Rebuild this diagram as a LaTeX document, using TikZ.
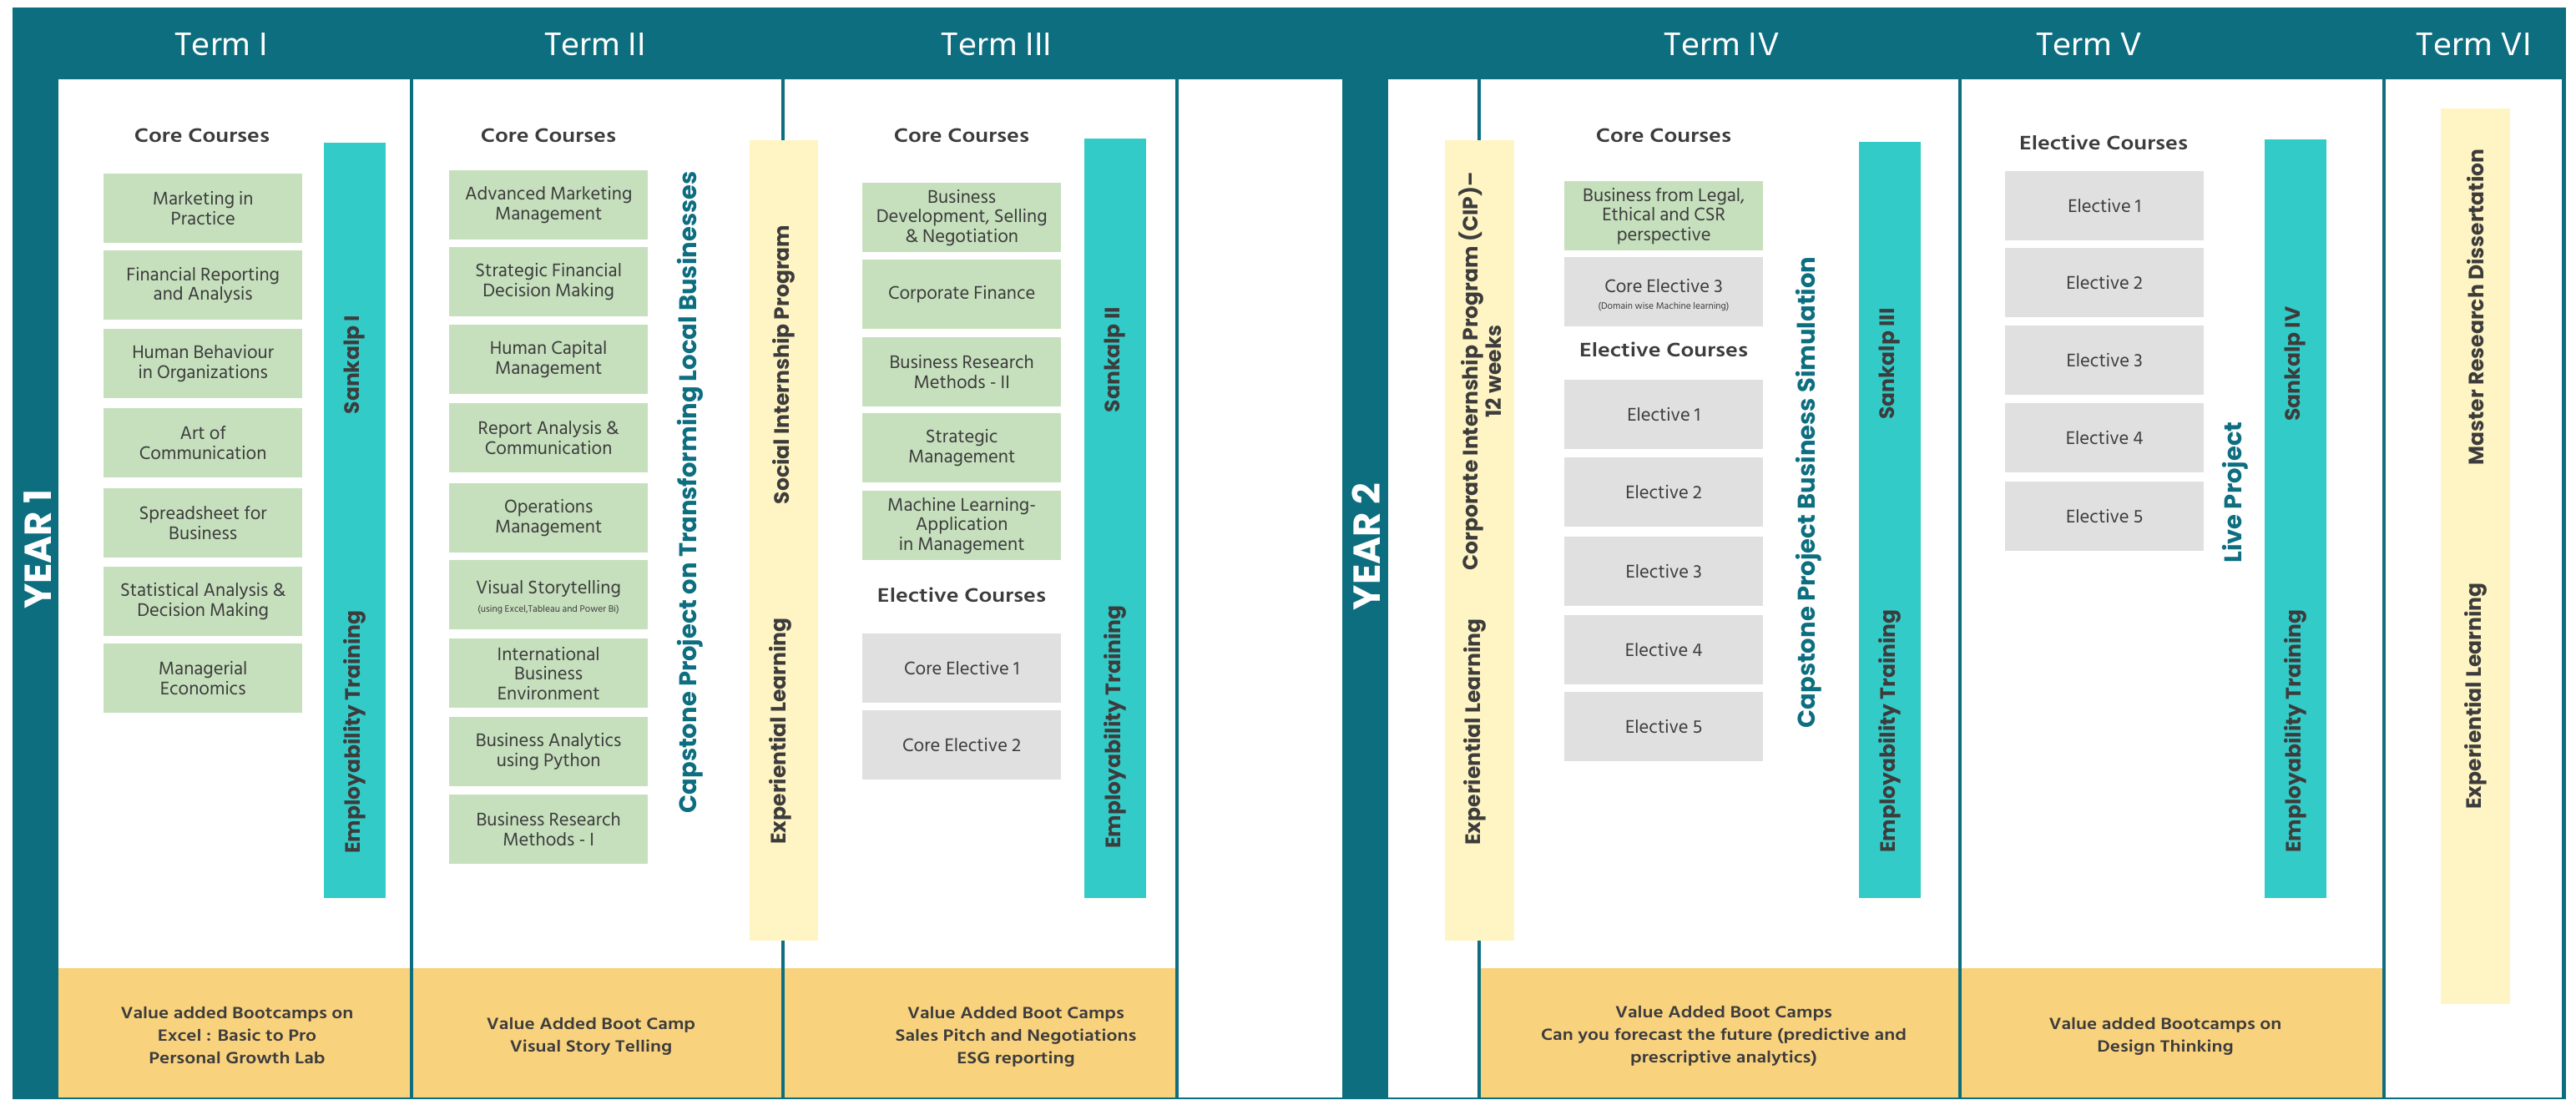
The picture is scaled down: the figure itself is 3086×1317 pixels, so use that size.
\documentclass[tikz,border=0pt]{standalone}
\usepackage{fontspec}
\usepackage{graphicx}
\setmainfont{Hind Siliguri}
\newfontfamily\poppfont{Poppins}
\definecolor{cteal}{HTML}{0D6E80}
\definecolor{cbar}{HTML}{33CBC8}
\definecolor{cgreen}{HTML}{C6E0BD}
\definecolor{cgray}{HTML}{E0E0E0}
\definecolor{cyell}{HTML}{FFF4C3}
\definecolor{corange}{HTML}{F9D27E}
\definecolor{ctext}{HTML}{3C3C3C}
\newcommand\boxfnt{\fontsize{22.5}{23.5}\selectfont}
\newcommand\wideh[1]{\scalebox{1.06}[1]{#1}}
\newcommand\wides[1]{\scalebox{1.17}[1]{#1}}
\newcommand\wideo[1]{\scalebox{1.15}[1]{\begin{tabular}{@{}c@{}}#1\end{tabular}}}
\tikzset{
  hdr/.style={text=white,font=\fontsize{40}{42}\selectfont},
  sect/.style={text=ctext,font=\bfseries\fontsize{24}{26}\selectfont},
  greenbox/.style={fill=cgreen,minimum width=238pt,minimum height=83pt,inner sep=2pt,align=center,text=ctext,font=\boxfnt,anchor=north west},
  graybox/.style={greenbox,fill=cgray},
  smalltxt/.style={text=ctext,font=\fontsize{11.5}{13}\selectfont},
  vlab/.style={rotate=90,text=ctext,font=\poppfont\bfseries\fontsize{25}{28}\selectfont},
  tlab/.style={rotate=90,text=cteal,font=\poppfont\bfseries\fontsize{29}{31}\selectfont},
  yearlab/.style={rotate=90,text=white,font=\poppfont\bfseries\fontsize{45}{47}\selectfont},
  otxt/.style={text=ctext,inner sep=0pt,font=\bfseries\fontsize{20}{27}\selectfont},
  divider/.style={draw=cteal,line width=3.5pt}
}
\begin{document}
\begin{tikzpicture}[x=1pt,y=-1pt]
\useasboundingbox (0,0) rectangle (3086,1317);
% frame
\fill[cteal] (15,9) rectangle (3074,1317);
\fill[white] (70,95) rectangle (1608,1315);
\fill[white] (1663,95) rectangle (3069,1315);
% bottom bands
\fill[corange] (70,1160) rectangle (1410,1315);
\fill[corange] (1772,1160) rectangle (2856,1315);
% dividers
\foreach \xx in {493,938,1410,1772,2348,2856}
  \draw[divider] (\xx,95) -- (\xx,1315);
% bars
\fill[cbar] (388,171) rectangle (462,1076);
\fill[cyell] (898,168) rectangle (980,1127);
\fill[cbar] (1299,166) rectangle (1373,1076);
\fill[cyell] (1731,168) rectangle (1814,1127);
\fill[cbar] (2227,170) rectangle (2301,1076);
\fill[cbar] (2713,167) rectangle (2787,1076);
\fill[cyell] (2924,130) rectangle (3007,1203);
% headers
\node[hdr] (h1) at (265,53) {\wideh{Term I}};
\node[hdr] (h2) at (713,53) {\wideh{Term II}};
\node[hdr] (h3) at (1194,53) {\wideh{Term III}};
\node[hdr] (h4) at (2063,53) {\wideh{Term IV}};
\node[hdr] (h5) at (2503,53) {\wideh{Term V}};
\node[hdr] (h6) at (2964,53) {\wideh{Term VI}};
\node[yearlab] (y1) at (45,658) {YEAR 1};
\node[yearlab] (y2) at (1637,655) {YEAR 2};
% section titles
\node[sect] (cc1) at (242,162) {\wides{Core Courses}};
\node[sect] (cc2) at (657,162) {\wides{Core Courses}};
\node[sect] (cc3) at (1152,162) {\wides{Core Courses}};
\node[sect] (cc4) at (1993,162) {\wides{Core Courses}};
\node[sect] (ec3) at (1152,713) {\wides{Elective Courses}};
\node[sect] (ec4) at (1993,419) {\wides{Elective Courses}};
\node[sect] (ec5) at (2520,171) {\wides{Elective Courses}};
% term I
\node[greenbox] (a1) at (124,208) {Marketing in\\Practice};
\node[greenbox] (a2) at (124,300) {Financial Reporting\\and Analysis};
\node[greenbox] (a3) at (124,394) {Human Behaviour\\in Organizations};
\node[greenbox] (a4) at (124,489) {Art of\\Communication};
\node[greenbox] (a5) at (124,585) {Spreadsheet for\\Business};
\node[greenbox] (a6) at (124,679) {Statistical Analysis \&\\Decision Making};
\node[greenbox] (a7) at (124,771) {Managerial\\Economics};
% term II
\node[greenbox] (b1) at (538,204) {Advanced Marketing\\Management};
\node[greenbox] (b2) at (538,296) {Strategic Financial\\Decision Making};
\node[greenbox] (b3) at (538,389) {Human Capital\\Management};
\node[greenbox] (b4) at (538,483) {Report Analysis \&\\Communication};
\node[greenbox] (b5) at (538,579) {Operations\\Management};
\node[greenbox] (b6) at (538,671) {};
\node[text=ctext,font=\boxfnt] (b6t) at (657,706) {Visual Storytelling};
\node[smalltxt] (b6s) at (657,730) {(using Excel,Tableau and Power Bi)};
\node[greenbox] (b7) at (538,765) {International\\Business\\Environment};
\node[greenbox] (b8) at (538,859) {Business Analytics\\using Python};
\node[greenbox] (b9) at (538,952) {Business Research\\Methods - I};
% term III
\node[greenbox] (c1) at (1033,219) {Business\\Development, Selling\\\& Negotiation};
\node[greenbox] (c2) at (1033,311) {Corporate Finance};
\node[greenbox] (c3) at (1033,404) {Business Research\\Methods - II};
\node[greenbox] (c4) at (1033,495) {Strategic\\Management};
\node[greenbox] (c5) at (1033,588) {Machine Learning-\\Application\\in Management};
\node[graybox] (c6) at (1033,759) {Core Elective 1};
\node[graybox] (c7) at (1033,851) {Core Elective 2};
% term IV
\node[greenbox] (d1) at (1874,217) {Business from Legal,\\Ethical and CSR\\perspective};
\node[graybox] (d2) at (1874,308) {};
\node[text=ctext,font=\boxfnt] (d2t) at (1993,343) {Core Elective 3};
\node[smalltxt] (d2s) at (1993,367) {(Domain wise Machine learning)};
\node[graybox] (d3) at (1874,455) {Elective 1};
\node[graybox] (d4) at (1874,548) {Elective 2};
\node[graybox] (d5) at (1874,643) {Elective 3};
\node[graybox] (d6) at (1874,737) {Elective 4};
\node[graybox] (d7) at (1874,829) {Elective 5};
% term V
\node[graybox] (e1) at (2402,205) {Elective 1};
\node[graybox] (e2) at (2402,297) {Elective 2};
\node[graybox] (e3) at (2402,390) {Elective 3};
\node[graybox] (e4) at (2402,483) {Elective 4};
\node[graybox] (e5) at (2402,577) {Elective 5};
% vertical labels
\node[vlab] (s1) at (425,437) {Sankalp I};
\node[vlab] (et1) at (425,877) {Employability Training};
\node[tlab] (cap1) at (827,590) {Capstone Project on Transforming Local Businesses};
\node[vlab] (sip) at (939,437) {Social Internship Program};
\node[vlab] (el2) at (935,876) {Experiential Learning};
\node[vlab] (s2) at (1336,431) {Sankalp II};
\node[vlab] (et2) at (1336,871) {Employability Training};
\node[vlab,align=center] (cip) at (1773,445) {Corporate Internship Program (CIP)–\\12 weeks};
\node[vlab] (el4) at (1767,877) {Experiential Learning};
\node[tlab] (cap2) at (2167,590) {Capstone Project Business Simulation};
\node[vlab] (s3) at (2264,436) {Sankalp III};
\node[vlab] (et3) at (2264,876) {Employability Training};
\node[tlab] (lp) at (2678,590) {Live Project};
\node[vlab] (s4) at (2750,436) {Sankalp IV};
\node[vlab] (et4) at (2750,876) {Employability Training};
\node[vlab] (mrd) at (2966,368) {Master Research Dissertation};
\node[vlab] (el6) at (2966,834) {Experiential Learning};
% bottom texts
\node[otxt] (o1) at (284,1242) {\wideo{Value added Bootcamps on\\Excel : Basic to Pro\\Personal Growth Lab}};
\node[otxt] (o2) at (708,1242) {\wideo{Value Added Boot Camp\\Visual Story Telling}};
\node[otxt] (o3) at (1217,1242) {\wideo{Value Added Boot Camps\\Sales Pitch and Negotiations\\ESG reporting}};
\node[otxt] (o4) at (2065,1241) {\wideo{Value Added Boot Camps\\Can you forecast the future (predictive and\\prescriptive analytics)}};
\node[otxt] (o5) at (2594,1242) {\wideo{Value added Bootcamps on\\Design Thinking}};
\end{tikzpicture}
\end{document}
